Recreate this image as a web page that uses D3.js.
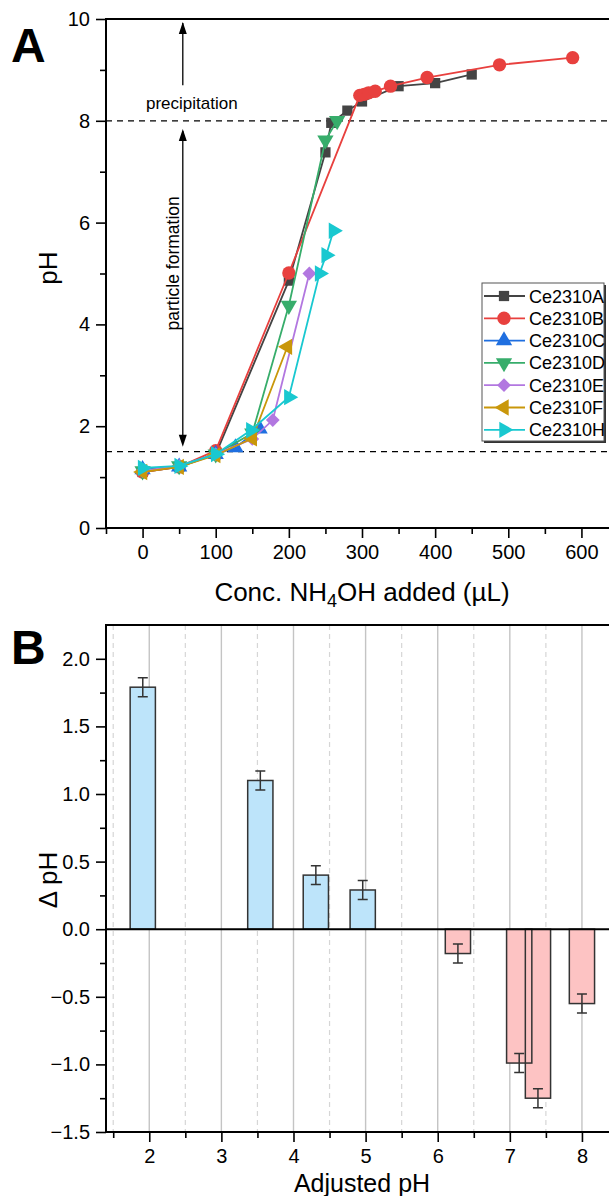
<!DOCTYPE html>
<html><head><meta charset="utf-8">
<script src="https://cdn.jsdelivr.net/npm/d3@7"></script>
<style>
body{margin:0;background:#fff}
svg{display:block}
text{font-family:"Liberation Sans",Arial,sans-serif}
</style>
</head><body>
<svg id="c" width="609" height="1196"></svg>
<script>
// ---------- Panel A data ----------
const seriesNames = ["Ce2310A","Ce2310B","Ce2310C","Ce2310D","Ce2310E","Ce2310F","Ce2310H"];
const seriesColors = ["#444444","#e8403e","#1f6fe0","#37ad6b","#b277e0","#c9970a","#19c8d0"];
const seriesShapes = ["square","circle","up","down","diamond","left","right"];
const xCe2310A = [0,50,100,200,250,258,280,300,350,400,450];
const yCe2310A = [1.10,1.20,1.45,4.86,7.38,7.96,8.20,8.38,8.68,8.74,8.91];
const xCe2310B = [0,50,100,200,297,303,309,318,339,389,488,588];
const yCe2310B = [1.10,1.20,1.52,5.01,8.50,8.52,8.55,8.58,8.68,8.85,9.10,9.24];
const xCe2310C = [0,50,100,127,160];
const yCe2310C = [1.15,1.20,1.45,1.58,1.95];
const xCe2310D = [0,50,100,150,200,250,266];
const yCe2310D = [1.12,1.22,1.45,1.86,4.37,7.62,8.00];
const xCe2310E = [0,50,100,150,178,228];
const yCe2310E = [1.12,1.22,1.45,1.75,2.12,5.00];
const xCe2310F = [0,50,100,150,198];
const yCe2310F = [1.10,1.20,1.43,1.76,3.56];
const xCe2310H = [0,50,100,148,200,242,251,261];
const yCe2310H = [1.18,1.22,1.45,1.92,2.57,5.00,5.36,5.84];
const xTicksA = [0,100,200,300,400,500,600];
const yTicksA = [0,2,4,6,8,10];
const refLinesA = [8,1.5];

// ---------- Panel B data ----------
const adjustedPH = [1.91,3.54,4.31,4.96,6.28,7.13,7.39,8.00];
const deltaPH    = [1.79,1.10,0.40,0.29,-0.18,-0.99,-1.25,-0.55];
const deltaErr   = [0.07,0.07,0.07,0.07,0.07,0.07,0.07,0.07];
const xTicksB = [2,3,4,5,6,7,8];
const yTicksB = [-1.5,-1.0,-0.5,0.0,0.5,1.0,1.5,2.0];

const xs = [xCe2310A,xCe2310B,xCe2310C,xCe2310D,xCe2310E,xCe2310F,xCe2310H];
const ys = [yCe2310A,yCe2310B,yCe2310C,yCe2310D,yCe2310E,yCe2310F,yCe2310H];
const series = seriesNames.map((n,i)=>({name:n,color:seriesColors[i],shape:seriesShapes[i],
  pts:xs[i].map((x,j)=>[x,ys[i][j]])}));

const svg = d3.select("#c");

function symbolPath(shape){
  const map = {square:[d3.symbolSquare,105],circle:[d3.symbolCircle,140],up:[d3.symbolTriangle,115],
    down:[d3.symbolTriangle,115],diamond:[d3.symbolSquare,95],left:[d3.symbolTriangle,115],right:[d3.symbolTriangle,115]};
  const m = map[shape];
  return d3.symbol().type(m[0]).size(m[1])();
}
const rot = {square:0,circle:0,up:0,down:180,diamond:45,left:-90,right:90};

function styleAxis(g,fs){
  g.attr("font-size",fs).attr("font-family","'Liberation Sans',Arial,sans-serif");
  g.select(".domain").remove();
  g.selectAll(".tick line").attr("stroke","#000").attr("stroke-width",1.6);
  g.selectAll(".tick text").attr("fill","#000");
}

// ================= Panel A =================
const xa = d3.scaleLinear().domain([-50,650]).range([106,618]);
const ya = d3.scaleLinear().domain([0,10]).range([528,19]);
const gA = svg.append("g");

refLinesA.forEach(v=>{
  gA.append("line").attr("x1",xa(-50)).attr("x2",xa(650)).attr("y1",ya(v)).attr("y2",ya(v))
    .attr("stroke","#000").attr("stroke-width",1.3).attr("stroke-dasharray","6,5");
});

// annotation arrows
const axX = xa(55);
function arrowHead(g,x,y,dir){
  const h=12,w=4;
  g.append("path").attr("d",`M${x},${y} L${x-w},${y-dir*h} L${x+w},${y-dir*h} Z`).attr("fill","#000");
}
gA.append("line").attr("x1",axX).attr("x2",axX).attr("y1",ya(10)+4).attr("y2",ya(8.7)).attr("stroke","#000").attr("stroke-width",1.3);
arrowHead(gA,axX,ya(10)+3,-1);
gA.append("text").attr("x",axX+9).attr("y",ya(8)-12).attr("text-anchor","middle").attr("font-size",17).text("precipitation");
gA.append("line").attr("x1",axX).attr("x2",axX).attr("y1",ya(7.8)).attr("y2",ya(1.7)).attr("stroke","#000").attr("stroke-width",1.3);
arrowHead(gA,axX,ya(7.8)-2,-1);
arrowHead(gA,axX,ya(1.5)-5,1);
gA.append("text").attr("transform",`translate(${axX-4},${ya(5.2)}) rotate(-90)`).attr("text-anchor","middle")
  .attr("font-size",17.5).text("particle formation");

// axes A
gA.append("g").attr("transform","translate(0,528)")
  .call(d3.axisBottom(xa).tickValues(xTicksA).tickSize(10).tickPadding(7).tickSizeOuter(0))
  .call(g=>styleAxis(g,20));
gA.append("g").attr("transform","translate(0,528)")
  .call(d3.axisBottom(xa).tickValues(d3.range(-50,651,100)).tickSize(6).tickFormat("").tickSizeOuter(0))
  .call(g=>styleAxis(g,20));
gA.append("g").attr("transform","translate(106,0)")
  .call(d3.axisLeft(ya).tickValues(yTicksA).tickSize(10).tickPadding(6).tickSizeOuter(0))
  .call(g=>styleAxis(g,20));
gA.append("g").attr("transform","translate(106,0)")
  .call(d3.axisLeft(ya).tickValues([1,3,5,7,9]).tickSize(6).tickFormat("").tickSizeOuter(0))
  .call(g=>styleAxis(g,20));
// frame
gA.append("path").attr("d",`M${xa(650)},${ya(10)} H106 V528 H${xa(650)}`).attr("fill","none").attr("stroke","#000").attr("stroke-width",2);

// series
const line = d3.line().x(d=>xa(d[0])).y(d=>ya(d[1]));
series.forEach(s=>{
  gA.append("path").attr("d",line(s.pts)).attr("fill","none").attr("stroke",s.color).attr("stroke-width",1.8);
  const p = symbolPath(s.shape);
  gA.selectAll(null).data(s.pts).enter().append("path").attr("d",p)
    .attr("transform",d=>`translate(${xa(d[0])},${ya(d[1])}) rotate(${rot[s.shape]})`)
    .attr("fill",s.color);
});

// legend
const lg = gA.append("g");
const lx=482, ly=283, lw=122, lh=158;
lg.append("rect").attr("x",lx+2).attr("y",ly+2).attr("width",lw).attr("height",lh).attr("fill","#333");
lg.append("rect").attr("x",lx).attr("y",ly).attr("width",lw).attr("height",lh).attr("fill","#fff").attr("stroke","#555").attr("stroke-width",1);
series.forEach((s,i)=>{
  const yy = ly+13+i*22.3;
  lg.append("line").attr("x1",lx+2).attr("x2",lx+43).attr("y1",yy).attr("y2",yy).attr("stroke",s.color).attr("stroke-width",1.8);
  lg.append("path").attr("d",symbolPath(s.shape)).attr("transform",`translate(${lx+22},${yy}) rotate(${rot[s.shape]})`).attr("fill",s.color);
  lg.append("text").attr("x",lx+47).attr("y",yy+6.5).attr("font-size",18).text(s.name);
});

// titles A
const tA = gA.append("text").attr("x",362).attr("y",601).attr("text-anchor","middle").attr("font-size",26);
tA.append("tspan").text("Conc. NH");
tA.append("tspan").attr("dy",6).attr("font-size",18).text("4");
tA.append("tspan").attr("dy",-6).text("OH added (µL)");
gA.append("text").attr("transform","translate(57,268) rotate(-90)").attr("text-anchor","middle").attr("font-size",26).text("pH");
svg.append("text").attr("x",11).attr("y",62).attr("font-size",48).attr("font-weight","bold").text("A");

// ================= Panel B =================
const xb = d3.scaleLinear().domain([1.4,8.5]).range([106,618]);
const yb = d3.scaleLinear().domain([-1.5,2.25]).range([1132,625]);
const gB = svg.append("g");

// grid
d3.range(1.5,8.6,1).forEach(v=>{
  gB.append("line").attr("x1",xb(v)).attr("x2",xb(v)).attr("y1",yb(2.25)).attr("y2",yb(-1.5))
    .attr("stroke","#d6d6d6").attr("stroke-width",1.2).attr("stroke-dasharray","5,4");
});
xTicksB.forEach(v=>{
  gB.append("line").attr("x1",xb(v)).attr("x2",xb(v)).attr("y1",yb(2.25)).attr("y2",yb(-1.5))
    .attr("stroke","#c4c4c4").attr("stroke-width",1.4);
});

const bw = 0.35;
const bars = adjustedPH.map((x,i)=>({x,v:deltaPH[i],e:deltaErr[i]}));
gB.selectAll(".bf").data(bars).enter().append("rect")
  .attr("x",d=>xb(d.x-bw/2)).attr("width",d=>xb(d.x+bw/2)-xb(d.x-bw/2))
  .attr("y",d=>yb(Math.max(0,d.v))).attr("height",d=>Math.abs(yb(d.v)-yb(0)))
  .attr("fill",d=>d.v>=0?"#bde4fa":"#fdc3c3");
gB.selectAll(".bs").data(bars).enter().append("rect")
  .attr("x",d=>xb(d.x-bw/2)).attr("width",d=>xb(d.x+bw/2)-xb(d.x-bw/2))
  .attr("y",d=>yb(Math.max(0,d.v))).attr("height",d=>Math.abs(yb(d.v)-yb(0)))
  .attr("fill","none").attr("stroke","#333").attr("stroke-width",1.5);
// error bars
bars.forEach(d=>{
  const cx = xb(d.x), y1 = yb(d.v+d.e), y2 = yb(d.v-d.e);
  gB.append("path").attr("d",`M${cx},${y1}V${y2}M${cx-5},${y1}H${cx+5}M${cx-5},${y2}H${cx+5}`)
    .attr("stroke","#333").attr("stroke-width",1.5).attr("fill","none");
});
// zero line
gB.append("line").attr("x1",106).attr("x2",xb(8.5)).attr("y1",yb(0)).attr("y2",yb(0)).attr("stroke","#000").attr("stroke-width",2);

// axes B
gB.append("g").attr("transform","translate(0,1132)")
  .call(d3.axisBottom(xb).tickValues(xTicksB).tickSize(10).tickPadding(7).tickSizeOuter(0))
  .call(g=>styleAxis(g,20));
gB.append("g").attr("transform","translate(0,1132)")
  .call(d3.axisBottom(xb).tickValues(d3.range(1.5,8.6,1)).tickSize(6).tickFormat("").tickSizeOuter(0))
  .call(g=>styleAxis(g,20));
gB.append("g").attr("transform","translate(106,0)")
  .call(d3.axisLeft(yb).tickValues(yTicksB).tickSize(10).tickPadding(6).tickFormat(d3.format(".1f")).tickSizeOuter(0))
  .call(g=>styleAxis(g,20));
gB.append("g").attr("transform","translate(106,0)")
  .call(d3.axisLeft(yb).tickValues([-1.25,-0.75,-0.25,0.25,0.75,1.25,1.75]).tickSize(6).tickFormat("").tickSizeOuter(0))
  .call(g=>styleAxis(g,20));
gB.append("path").attr("d",`M${xb(8.5)},${yb(2.25)} H106 V1132 H${xb(8.5)}`).attr("fill","none").attr("stroke","#000").attr("stroke-width",2);

gB.append("text").attr("x",362).attr("y",1192).attr("text-anchor","middle").attr("font-size",25).text("Adjusted pH");
gB.append("text").attr("transform","translate(57,880) rotate(-90)").attr("text-anchor","middle").attr("font-size",26).text("Δ pH");
svg.append("text").attr("x",11).attr("y",664).attr("font-size",48).attr("font-weight","bold").text("B");
</script>
</body></html>
